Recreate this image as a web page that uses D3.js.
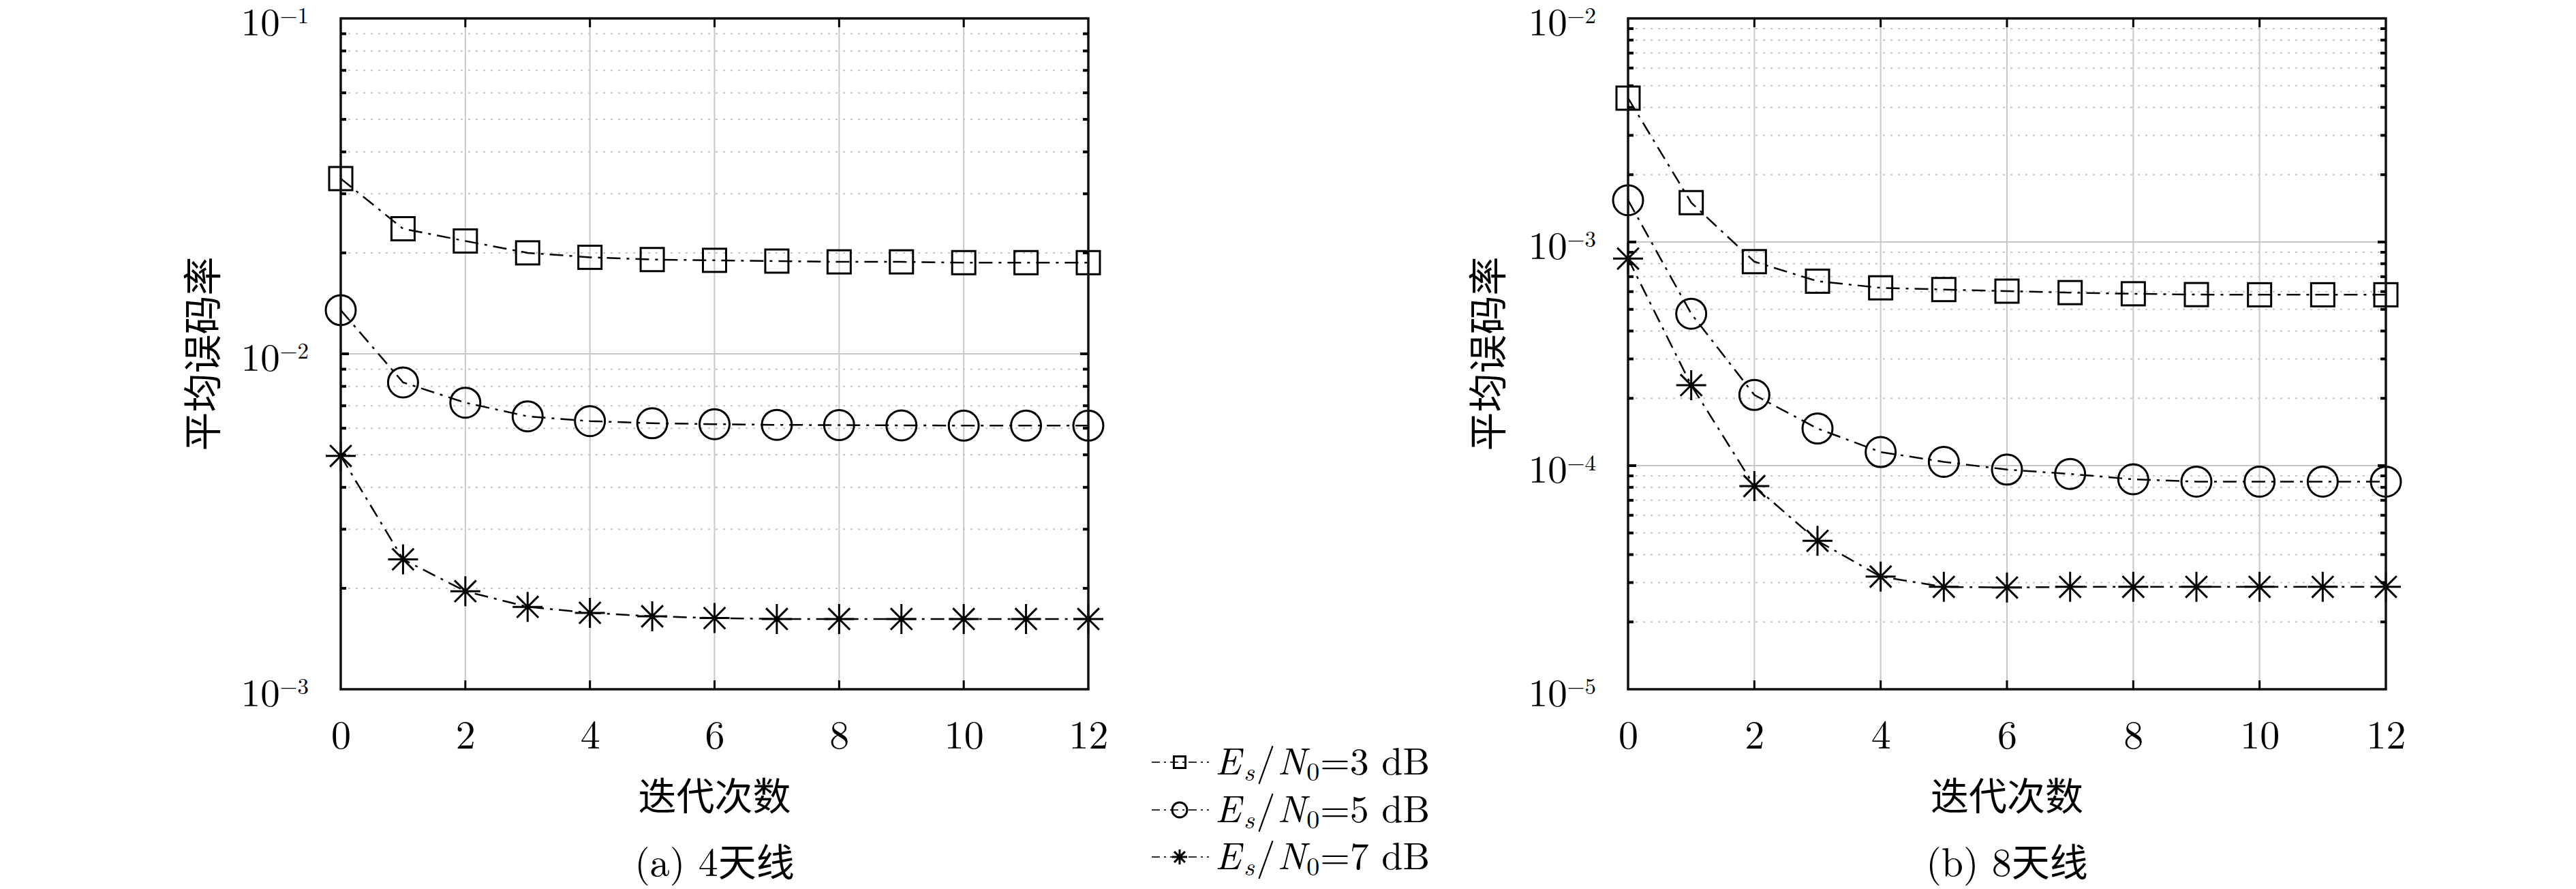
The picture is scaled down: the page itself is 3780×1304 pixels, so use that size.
<!DOCTYPE html>
<html>
<head>
<meta charset="utf-8">
<script src="https://cdn.jsdelivr.net/npm/d3@7"></script>
<style>
  body { margin: 0; background: #fff; }
  text { fill: #000; }
</style>
</head>
<body>
<script>
"use strict";
// iterations on the x axis
const iterations = [0, 1, 2, 3, 4, 5, 6, 7, 8, 9, 10, 11, 12];
const xTicks = [0, 2, 4, 6, 8, 10, 12];
const snrValues = [3, 5, 7];

// (a) 4 antennas
const ber4_3dB = [0.0333, 0.0236, 0.0217, 0.0200, 0.0194, 0.0191, 0.0190, 0.0189, 0.0188, 0.0188, 0.0187, 0.0187, 0.0187];
const ber4_5dB = [0.0135, 0.00822, 0.00715, 0.00651, 0.00630, 0.00621, 0.00617, 0.00614, 0.00613, 0.00612, 0.00611, 0.00611, 0.00611];
const ber4_7dB = [0.00496, 0.00244, 0.00196, 0.00176, 0.00169, 0.00165, 0.00163, 0.00162, 0.00162, 0.00162, 0.00162, 0.00162, 0.00162];

// (b) 8 antennas
const ber8_3dB = [0.00440, 0.00150, 0.000817, 0.000668, 0.000624, 0.000613, 0.000603, 0.000594, 0.000587, 0.000582, 0.000581, 0.000581, 0.000581];
const ber8_5dB = [0.001538, 0.000478, 0.000207, 0.0001465, 0.000115, 0.000104, 0.0000960, 0.0000918, 0.0000869, 0.0000848, 0.0000848, 0.0000848, 0.0000848];
const ber8_7dB = [0.000843, 0.000229, 0.0000810, 0.0000461, 0.0000319, 0.0000287, 0.0000285, 0.0000287, 0.0000287, 0.0000287, 0.0000287, 0.0000287, 0.0000287];

const yDecades4 = [-3, -2, -1];
const yDecades8 = [-5, -4, -3, -2];

const xLabel = "迭代次数";
const yLabel = "平均误码率";
const captionTags = ["(a) 4", "(b) 8"];
const captionWord = "天线";

const width = 3780;
const height = 1304;
const serif = "'Latin Modern Roman', 'Liberation Serif', 'DejaVu Serif', serif";
const cjk = "'Noto Sans CJK SC', 'Noto Sans', sans-serif";

const svg = d3.select("body")
    .append("svg")
    .attr("width", width)
    .attr("height", height);

const plotTop = 27;
const plotBottom = 1011;

const panels = [
    {left: 500, right: 1597, decades: yDecades4, series: [ber4_3dB, ber4_5dB, ber4_7dB], tag: captionTags[0], ylab: 297},
    {left: 2389, right: 3501, decades: yDecades8, series: [ber8_3dB, ber8_5dB, ber8_7dB], tag: captionTags[1], ylab: 2183}
];

const markerTypes = ["square", "circle", "star"];

function drawMarker(g, type, cx, cy, s, sw) {
    if (type === "square") {
        g.append("rect")
            .attr("x", cx - s / 2).attr("y", cy - s / 2)
            .attr("width", s).attr("height", s)
            .attr("fill", "none").attr("stroke", "#000").attr("stroke-width", sw);
    } else if (type === "circle") {
        g.append("circle")
            .attr("cx", cx).attr("cy", cy).attr("r", s / 2)
            .attr("fill", "none").attr("stroke", "#000").attr("stroke-width", sw);
    } else {
        const r = s / 2, d = r * 0.72;
        const p = d3.path();
        p.moveTo(cx, cy - r); p.lineTo(cx, cy + r);
        p.moveTo(cx - r, cy); p.lineTo(cx + r, cy);
        p.moveTo(cx - d, cy - d); p.lineTo(cx + d, cy + d);
        p.moveTo(cx - d, cy + d); p.lineTo(cx + d, cy - d);
        g.append("path").attr("d", p.toString())
            .attr("fill", "none").attr("stroke", "#000").attr("stroke-width", sw);
    }
}

panels.forEach(panel => {
    const g = svg.append("g");

    const x = d3.scaleLinear()
        .domain([0, 12])
        .range([panel.left, panel.right]);

    const yMin = Math.pow(10, panel.decades[0]);
    const yMax = Math.pow(10, panel.decades[panel.decades.length - 1]);
    const y = d3.scaleLog()
        .domain([yMin, yMax])
        .range([plotBottom, plotTop]);

    const allTicks = y.ticks();
    const isMajor = v => Math.abs(Math.log10(v) - Math.round(Math.log10(v))) < 1e-6;
    const minorTicks = allTicks.filter(v => !isMajor(v));
    const majorTicks = allTicks.filter(isMajor);

    // grid
    g.selectAll(".minor-grid")
        .data(minorTicks)
        .enter().append("line")
        .attr("x1", panel.left).attr("x2", panel.right)
        .attr("y1", d => y(d)).attr("y2", d => y(d))
        .attr("stroke", "#c4c4c4")
        .attr("stroke-width", 2)
        .attr("stroke-dasharray", "3,8");

    g.selectAll(".major-grid")
        .data(majorTicks)
        .enter().append("line")
        .attr("x1", panel.left).attr("x2", panel.right)
        .attr("y1", d => y(d)).attr("y2", d => y(d))
        .attr("stroke", "#c8c8c8")
        .attr("stroke-width", 2);

    g.selectAll(".vgrid")
        .data(xTicks)
        .enter().append("line")
        .attr("x1", d => x(d)).attr("x2", d => x(d))
        .attr("y1", plotTop).attr("y2", plotBottom)
        .attr("stroke", "#c8c8c8")
        .attr("stroke-width", 2);

    // series lines
    const line = d3.line()
        .x((d, i) => x(iterations[i]))
        .y(d => y(d));

    panel.series.forEach((vals, k) => {
        g.append("path")
            .datum(vals)
            .attr("d", line)
            .attr("fill", "none")
            .attr("stroke", "#000")
            .attr("stroke-width", 2.5)
            .attr("stroke-dasharray", "20,9,4,9");
        vals.forEach((v, i) => {
            drawMarker(g, markerTypes[k], x(iterations[i]), y(v), k === 0 ? 34 : 44, 3);
        });
    });

    // frame
    g.append("rect")
        .attr("x", panel.left).attr("y", plotTop)
        .attr("width", panel.right - panel.left)
        .attr("height", plotBottom - plotTop)
        .attr("fill", "none")
        .attr("stroke", "#111")
        .attr("stroke-width", 3.5);

    // x ticks (top & bottom, inward)
    const innerX = xTicks.slice(1, -1);
    g.selectAll(".xt-b").data(innerX).enter().append("line")
        .attr("x1", d => x(d)).attr("x2", d => x(d))
        .attr("y1", plotBottom).attr("y2", plotBottom - 13)
        .attr("stroke", "#000").attr("stroke-width", 3);
    g.selectAll(".xt-t").data(innerX).enter().append("line")
        .attr("x1", d => x(d)).attr("x2", d => x(d))
        .attr("y1", plotTop).attr("y2", plotTop + 13)
        .attr("stroke", "#000").attr("stroke-width", 3);

    // y ticks (left & right, inward)
    allTicks.forEach(v => {
        const len = isMajor(v) ? 12 : 8;
        if (v === yMin || v === yMax) return;
        g.append("line")
            .attr("x1", panel.left).attr("x2", panel.left + len)
            .attr("y1", y(v)).attr("y2", y(v))
            .attr("stroke", "#000").attr("stroke-width", 4);
        g.append("line")
            .attr("x1", panel.right).attr("x2", panel.right - len)
            .attr("y1", y(v)).attr("y2", y(v))
            .attr("stroke", "#000").attr("stroke-width", 4);
    });

    // x tick labels
    const xAxis = d3.axisBottom(x)
        .tickValues(xTicks)
        .tickSize(0)
        .tickFormat(d3.format("d"));
    const xg = g.append("g")
        .attr("transform", `translate(0, ${plotBottom})`)
        .call(xAxis);
    xg.select(".domain").remove();
    xg.selectAll("text")
        .attr("dy", null)
        .attr("y", 87)
        .attr("font-family", serif)
        .attr("font-size", 58)
        .attr("fill", "#000");

    // y tick labels 10^n
    panel.decades.forEach(n => {
        const t = g.append("text")
            .attr("x", panel.left - 47)
            .attr("y", y(Math.pow(10, n)) + 25)
            .attr("text-anchor", "end")
            .attr("font-family", serif)
            .attr("font-size", 57);
        t.append("tspan").text("10");
        t.append("tspan")
            .attr("dy", -18)
            .attr("font-size", 33)
            .text("\u2212" + Math.abs(n));
    });

    const cx = (panel.left + panel.right) / 2;

    // x label
    g.append("text")
        .attr("x", cx).attr("y", 1188)
        .attr("text-anchor", "middle")
        .attr("font-family", cjk)
        .attr("font-size", 56)
        .text(xLabel);

    // caption: serif tag followed by CJK word
    const cap = g.append("text")
        .attr("x", cx).attr("y", 1285)
        .attr("text-anchor", "middle")
        .attr("font-size", 56);
    cap.append("tspan").attr("font-family", serif).attr("font-size", 58).text(panel.tag);
    cap.append("tspan").attr("font-family", cjk).text(captionWord);

    // y label
    const ymid = (plotTop + plotBottom) / 2;
    g.append("text")
        .attr("transform", `translate(${panel.ylab}, ${ymid}) rotate(-90)`)
        .attr("text-anchor", "middle")
        .attr("dy", "0.36em")
        .attr("font-family", cjk)
        .attr("font-size", 57)
        .text(yLabel);
});

// legend
const legendRows = [1118, 1188, 1257];
const legend = svg.append("g");
snrValues.forEach((snr, k) => {
    const ry = legendRows[k];
    legend.append("line")
        .attr("x1", 1690).attr("x2", 1774)
        .attr("y1", ry).attr("y2", ry)
        .attr("stroke", "#333")
        .attr("stroke-width", 2)
        .attr("stroke-dasharray", "12,6,3,6");
    drawMarker(legend, markerTypes[k], 1731, ry, k === 0 ? 17 : 22, 3);
    const t = legend.append("text")
        .attr("x", 1783).attr("y", ry + 18)
        .attr("font-family", serif)
        .attr("font-size", 56);
    t.append("tspan").attr("font-style", "italic").text("E");
    t.append("tspan").attr("font-style", "italic").attr("font-size", 38).attr("dy", 9).attr("dx", 4).text("s");
    t.append("tspan").attr("dy", -9).attr("dx", 3).text("/");
    t.append("tspan").attr("font-style", "italic").attr("dx", 3).text("N");
    t.append("tspan").attr("font-size", 38).attr("dy", 9).attr("dx", 1).text("0");
    t.append("tspan").attr("dy", -9).attr("dx", 1).text("=" + snr + " dB");
});
</script>
</body>
</html>
